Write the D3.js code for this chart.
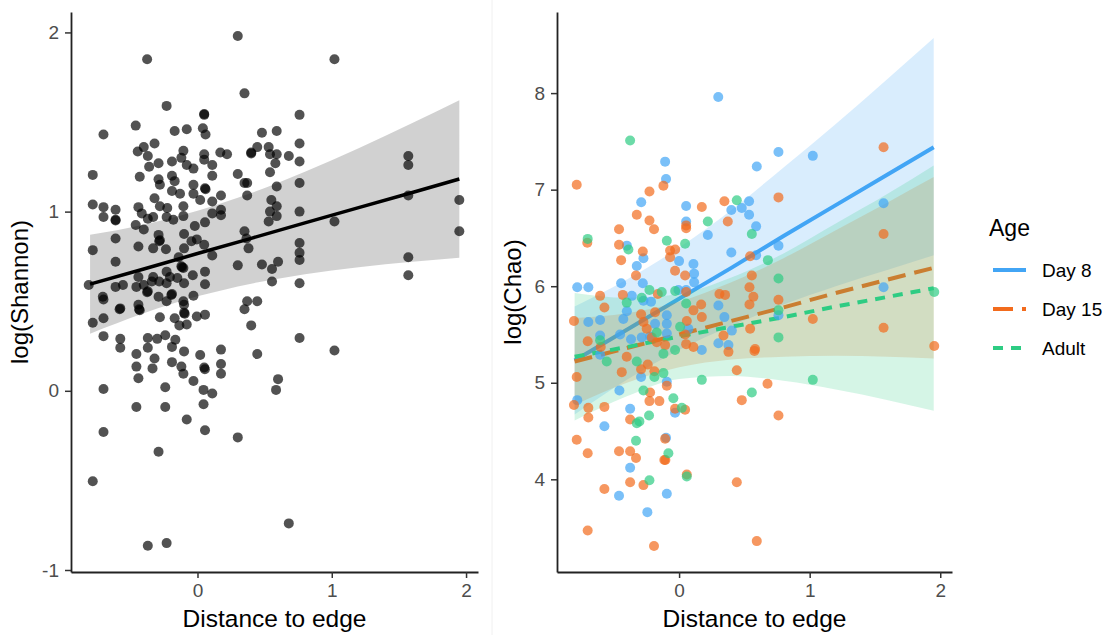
<!DOCTYPE html>
<html>
<head>
<meta charset="utf-8">
<script src="https://cdn.jsdelivr.net/npm/d3@7"></script>
<style>
  body { margin: 0; background: #fff; }
  text { font-family: "Liberation Sans", Arial, sans-serif; }
</style>
</head>
<body>
<script>
// ---- left panel: log(Shannon) vs distance to edge ----
var shannonPts = [
  [0.30,1.98],[-0.375,1.85],[1.02,1.85],[0.35,1.66],[-0.23,1.59],[0.05,1.54],[0.05,1.545],[0.76,1.54],
  [-0.46,1.48],[-0.70,1.43],[-0.17,1.45],[-0.08,1.46],[0.04,1.465],[0.06,1.43],[0.48,1.44],[0.59,1.45],
  [0.76,1.38],[-0.40,1.36],[-0.445,1.335],[-0.32,1.38],[-0.37,1.31],[-0.105,1.34],[-0.12,1.30],[0.05,1.32],
  [0.05,1.29],[0.17,1.33],[0.22,1.32],[0.40,1.33],[0.40,1.325],[0.445,1.36],[0.53,1.36],[0.54,1.32],
  [0.59,1.32],[0.68,1.31],[0.76,1.28],[0.58,1.27],[0.54,1.22],[-0.29,1.27],[-0.36,1.25],[-0.19,1.28],
  [-0.08,1.26],[-0.03,1.24],[0.11,1.26],[-0.78,1.205],[-0.43,1.195],[-0.29,1.18],[-0.28,1.15],[-0.19,1.20],
  [-0.17,1.17],[-0.03,1.15],[0.056,1.13],[0.06,1.125],[0.11,1.20],[0.30,1.21],[0.35,1.16],[0.37,1.16],
  [0.76,1.16],[0.59,1.14],[-0.19,1.115],[-0.13,1.10],[-0.03,1.10],[-0.32,1.075],[0.02,1.065],[0.11,1.056],
  [0.175,1.09],[0.37,1.09],[0.55,1.065],[1.57,1.31],[1.57,1.26],[1.57,1.09],[1.95,1.065],[-0.78,1.04],
  [-0.70,1.025],[-0.70,0.97],[-0.61,1.01],[-0.61,0.955],[-0.61,0.95],[-0.44,1.025],[-0.415,0.99],[-0.37,0.96],
  [-0.33,0.97],[-0.28,1.03],[-0.225,1.02],[-0.23,0.97],[-0.18,0.955],[-0.105,1.03],[-0.105,0.975],[0.11,0.99],
  [0.175,1.01],[0.175,0.98],[0.54,1.0],[0.59,1.03],[0.59,0.975],[0.53,0.945],[0.76,1.0],[1.02,0.945],
  [-0.46,0.925],[-0.40,0.90],[-0.02,0.92],[0.056,0.94],[1.95,0.89],[-0.61,0.85],[-0.78,0.785],[-0.44,0.805],
  [-0.33,0.795],[-0.29,0.87],[-0.28,0.84],[-0.285,0.835],[-0.235,0.79],[-0.10,0.875],[-0.005,0.845],[-0.045,0.835],
  [-0.10,0.795],[0.05,0.815],[0.11,0.755],[0.35,0.89],[0.365,0.85],[0.38,0.795],[0.76,0.825],[0.76,0.77],
  [0.76,0.73],[-0.61,0.72],[-0.14,0.745],[-0.12,0.695],[-0.115,0.69],[0.30,0.70],[0.48,0.705],[0.555,0.68],
  [0.60,0.72],[1.57,0.745],[1.57,0.645],[0.555,0.61],[0.76,0.60],[-0.81,0.59],[-0.61,0.58],[-0.555,0.59],
  [-0.455,0.58],[-0.40,0.59],[-0.37,0.555],[-0.375,0.55],[-0.33,0.635],[-0.34,0.61],[-0.285,0.61],[-0.23,0.60],
  [-0.205,0.635],[-0.15,0.63],[-0.10,0.60],[-0.035,0.645],[0.056,0.665],[0.056,0.595],[-0.23,0.665],[-0.105,0.685],
  [-0.44,0.635],[-0.705,0.525],[-0.70,0.51],[-0.29,0.525],[-0.23,0.50],[-0.19,0.54],[-0.195,0.535],[-0.105,0.50],
  [-0.10,0.48],[-0.03,0.53],[-0.575,0.46],[-0.58,0.455],[-0.44,0.48],[-0.435,0.455],[-0.43,0.45],[-0.78,0.38],
  [-0.70,0.405],[-0.28,0.41],[-0.17,0.405],[-0.10,0.435],[-0.095,0.43],[-0.135,0.365],[-0.08,0.37],[-0.005,0.415],
  [0.056,0.425],[0.35,0.455],[0.37,0.50],[0.445,0.50],[0.40,0.365],[-0.70,0.305],[-0.575,0.29],[-0.575,0.24],
  [-0.455,0.205],[-0.455,0.135],[-0.44,0.07],[-0.37,0.295],[-0.37,0.24],[-0.30,0.29],[-0.24,0.31],[-0.165,0.285],
  [-0.19,0.245],[-0.32,0.18],[-0.335,0.125],[-0.19,0.16],[-0.12,0.135],[-0.105,0.095],[-0.10,0.22],[0.02,0.20],
  [0.05,0.13],[0.055,0.12],[0.175,0.23],[0.175,0.15],[0.175,0.095],[-0.03,0.055],[0.045,0.005],[0.11,-0.015],
  [0.045,-0.075],[-0.70,0.01],[-0.24,0.02],[-0.455,-0.09],[-0.24,-0.09],[-0.08,-0.16],[0.056,-0.22],[-0.70,-0.23],
  [0.30,-0.26],[-0.29,-0.34],[-0.78,-0.505],[0.68,-0.74],[-0.37,-0.865],[-0.23,-0.85],[0.76,0.295],[1.02,0.225],
  [0.445,0.205],[0.60,0.065],[0.585,0.005]
];
// fitted line and confidence band
var fitX = [-0.8, -0.4, 0, 0.4, 0.8, 1.2, 1.6, 1.95];
var shannonFit = [0.595, 0.680, 0.766, 0.851, 0.937, 1.022, 1.107, 1.182];
var shannonLo = [0.319, 0.433, 0.527, 0.598, 0.651, 0.690, 0.720, 0.742];
var shannonHi = [0.871, 0.927, 1.005, 1.104, 1.223, 1.354, 1.494, 1.622];
var shannonTicks = [-1, 0, 1, 2];

// ---- right panel: log(Chao) by age ----
var ages = ["Day 8", "Day 15", "Adult"];
var day8Pts = [
  [0.30,7.96],[-0.107,7.29],[-0.10,7.11],[0.595,7.24],[-0.29,6.87],[0.054,6.83],[0.40,6.79],[0.48,6.81],
  [0.536,6.88],[0.536,6.74],[0.59,6.62],[0.054,6.67],[0.22,6.53],[-0.40,6.42],[0.40,6.35],[0.0,6.26],
  [0.11,6.23],[0.115,6.13],[0.115,6.04],[-0.273,6.29],[-0.324,6.21],[-0.78,5.99],[-0.695,5.99],[-0.444,6.03],
  [-0.278,6.03],[-0.362,5.90],[-0.273,5.85],[-0.215,5.84],[-0.005,5.96],[0.054,5.96],[-0.40,5.74],[-0.427,5.66],
  [-0.605,5.65],[-0.695,5.63],[-0.094,5.70],[-0.094,5.61],[-0.184,5.61],[-0.605,5.49],[-0.452,5.50],[-0.368,5.45],
  [-0.286,5.47],[-0.222,5.48],[-0.094,5.51],[0.071,5.56],[0.301,5.80],[0.347,5.68],[0.404,5.54],[0.301,5.41],
  [0.378,5.39],[0.174,5.34],[-0.605,5.29],[-0.291,5.06],[-0.457,4.92],[-0.094,5.01],[-0.78,4.82],[-0.375,4.73],
  [-0.572,4.55],[-0.031,4.69],[-0.10,4.43],[-0.375,4.12],[-0.46,3.83],[-0.094,3.85],[-0.243,3.66],[0.761,7.39],
  [1.024,7.35],[1.566,6.86],[0.761,6.42],[1.566,5.99],[0.761,5.70],[0.59,6.32]
];
var day15Pts = [
  [-0.784,7.05],[-0.227,6.98],[-0.12,7.04],[-0.324,6.74],[-0.227,6.68],[-0.192,6.59],[-0.46,6.59],[0.054,6.63],
  [0.054,6.60],[0.174,6.82],[0.347,6.88],[0.373,6.67],[-0.703,6.45],[-0.46,6.43],[-0.278,6.36],[-0.069,6.37],
  [-0.03,6.38],[-0.069,6.30],[-0.444,6.27],[-0.33,6.11],[-0.031,6.16],[0.046,6.11],[0.054,5.94],[-0.605,5.90],
  [-0.431,5.91],[-0.572,5.78],[-0.805,5.64],[-0.291,5.71],[-0.184,5.73],[-0.163,5.92],[0.059,5.64],[0.169,5.81],
  [0.174,5.68],[0.11,5.75],[0.309,5.92],[0.352,5.91],[0.539,5.99],[0.557,6.11],[0.569,5.89],[0.539,5.81],
  [0.544,5.56],[0.34,5.49],[0.577,5.33],[-0.70,5.43],[-0.60,5.37],[-0.401,5.27],[-0.273,5.63],[-0.248,5.56],
  [-0.209,5.47],[-0.171,5.42],[-0.107,5.39],[0.054,5.40],[0.11,5.37],[0.046,5.50],[0.378,5.32],[0.442,5.13],
  [-0.439,5.11],[-0.24,5.19],[-0.291,5.14],[-0.189,5.12],[-0.094,4.97],[-0.222,4.90],[-0.227,4.81],[-0.151,4.81],
  [-0.784,5.06],[-0.805,4.77],[-0.695,4.74],[-0.572,4.75],[0.48,4.82],[-0.695,4.64],[-0.375,4.62],[-0.031,4.73],
  [0.046,4.72],[-0.784,4.41],[-0.70,4.27],[-0.46,4.29],[-0.375,4.29],[-0.33,4.22],[-0.107,4.42],[-0.113,4.20],
  [-0.105,4.20],[0.059,4.05],[-0.375,3.97],[-0.273,3.94],[-0.572,3.90],[0.442,3.97],[-0.70,3.47],[-0.192,3.31],
  [0.595,3.36],[1.566,7.44],[0.761,6.92],[1.566,6.54],[0.544,6.31],[0.761,5.86],[1.024,5.66],[1.566,5.57],
  [1.954,5.38],[0.677,4.99],[0.761,4.66],[0.582,5.35]
];
var adultPts = [
  [-0.375,7.51],[0.442,6.89],[0.22,6.67],[0.557,6.54],[-0.70,6.49],[-0.094,6.47],[0.046,6.44],[-0.388,6.38],
  [-0.227,5.96],[-0.133,5.94],[-0.03,5.95],[-0.286,5.88],[-0.401,5.83],[0.054,5.82],[-0.605,5.44],[-0.554,5.22],
  [-0.324,5.22],[-0.171,5.52],[-0.12,5.30],[-0.031,5.34],[0.008,5.58],[-0.189,5.06],[-0.12,5.10],[0.174,5.03],
  [-0.273,4.92],[-0.044,4.84],[0.557,4.90],[-0.23,4.66],[-0.304,4.60],[-0.324,4.58],[0.021,4.74],[-0.33,4.40],
  [-0.082,4.27],[-0.227,3.99],[0.059,4.03],[1.954,5.94],[0.68,6.27],[0.761,6.08],[0.761,5.75],[0.761,5.47],
  [1.024,5.03]
];
var day8Fit = [5.23, 5.55, 5.87, 6.19, 6.52, 6.84, 7.16, 7.44];
var day8Lo = [4.67, 5.03, 5.34, 5.59, 5.81, 6.00, 6.17, 6.32];
var day8Hi = [5.79, 6.07, 6.40, 6.79, 7.23, 7.68, 8.15, 8.57];
var day15Fit = [5.22, 5.36, 5.50, 5.64, 5.78, 5.93, 6.07, 6.19];
var day15Lo = [4.77, 5.00, 5.16, 5.24, 5.27, 5.28, 5.27, 5.25];
var day15Hi = [5.67, 5.72, 5.84, 6.04, 6.29, 6.58, 6.87, 7.13];
var adultFit = [5.27, 5.37, 5.48, 5.58, 5.68, 5.79, 5.89, 5.98];
var adultLo = [4.61, 4.86, 5.04, 5.07, 5.02, 4.93, 4.82, 4.71];
var adultHi = [5.93, 5.88, 5.92, 6.09, 6.34, 6.65, 6.96, 7.25];
var chaoTicks = [4, 5, 6, 7, 8];
var distTicks = [0, 1, 2];

var colors = ["#42a5f5", "#f26b1d", "#2ecc83"];
var dashes = [null, "18,9", "10,8"];

var w = 1110, h = 635;
var svg = d3.select("body").append("svg")
    .attr("width", w)
    .attr("height", h);

// faint panel divider
svg.append("line")
    .attr("x1", 492).attr("x2", 492).attr("y1", 0).attr("y2", h)
    .attr("stroke", "#f0f0f0").attr("stroke-width", 1);

function styleAxis(g) {
    g.selectAll(".domain").attr("stroke", "#222").attr("stroke-width", 1.8);
    g.selectAll(".tick line").attr("stroke", "#333").attr("stroke-width", 1.5);
    g.selectAll(".tick text").attr("fill", "#4d4d4d")
        .style("font-size", "19px").style("font-family", "Liberation Sans, Arial, sans-serif");
}

function drawAxes(x, y, yTicks, yTitle, titleX) {
    var r = x.range(), ry = y.range();
    var gx = svg.append("g")
        .attr("transform", "translate(0," + ry[0] + ")")
        .call(d3.axisBottom(x).tickValues(distTicks).tickFormat(d3.format("d"))
            .tickSize(6).tickSizeOuter(0).tickPadding(6));
    styleAxis(gx);
    var gy = svg.append("g")
        .attr("transform", "translate(" + r[0] + ",0)")
        .call(d3.axisLeft(y).tickValues(yTicks).tickFormat(d3.format("d"))
            .tickSize(6).tickSizeOuter(0).tickPadding(6));
    styleAxis(gy);
    // ggplot-style minus: hyphen
    gy.selectAll(".tick text").text(function (d) { return d < 0 ? "-" + Math.abs(d) : d; });

    svg.append("text")
        .attr("x", (r[0] + r[1]) / 2)
        .attr("y", 627)
        .attr("text-anchor", "middle")
        .style("font-size", "24.5px")
        .attr("fill", "#000")
        .text("Distance to edge");
    svg.append("text")
        .attr("transform", "translate(" + titleX + "," + 292 + ") rotate(-90)")
        .attr("text-anchor", "middle")
        .style("font-size", "24px")
        .attr("fill", "#000")
        .text(yTitle);
}

function band(x, y, lo, hi) {
    return d3.area()
        .curve(d3.curveMonotoneX)
        .x(function (d, i) { return x(fitX[i]); })
        .y0(function (d, i) { return y(lo[i]); })
        .y1(function (d, i) { return y(hi[i]); })(fitX);
}
function fitLine(x, y, fit) {
    return d3.line()
        .x(function (d, i) { return x(fitX[i]); })
        .y(function (d, i) { return y(fit[i]); })(fitX);
}

// ---------- left panel ----------
var xL = d3.scaleLinear().domain([-0.942, 2.089]).range([71, 478]);
var yL = d3.scaleLinear().domain([-1.0112, 2.114]).range([572, 12]);

svg.append("path")
    .attr("d", band(xL, yL, shannonLo, shannonHi))
    .attr("fill", "#999999")
    .attr("fill-opacity", 0.45);

svg.append("path")
    .attr("d", fitLine(xL, yL, shannonFit))
    .attr("fill", "none")
    .attr("stroke", "#000")
    .attr("stroke-width", 3.5);

svg.append("g").selectAll("circle")
    .data(shannonPts)
    .enter()
    .append("circle")
    .attr("cx", function (d) { return xL(d[0]); })
    .attr("cy", function (d) { return yL(d[1]); })
    .attr("r", 5)
    .attr("fill", "#000")
    .attr("fill-opacity", 0.68);

drawAxes(xL, yL, shannonTicks, "log(Shannon)", 28);

// ---------- right panel ----------
var xR = d3.scaleLinear().domain([-0.935, 2.09]).range([557, 952]);
var yR = d3.scaleLinear().domain([3.04, 8.84]).range([572, 12]);

var groups = [
    { pts: day8Pts, fit: day8Fit, lo: day8Lo, hi: day8Hi },
    { pts: day15Pts, fit: day15Fit, lo: day15Lo, hi: day15Hi },
    { pts: adultPts, fit: adultFit, lo: adultLo, hi: adultHi }
];

// ribbon then line, per group
groups.forEach(function (g, gi) {
    svg.append("path")
        .attr("d", band(xR, yR, g.lo, g.hi))
        .attr("fill", colors[gi])
        .attr("fill-opacity", 0.2);
    svg.append("path")
        .attr("d", fitLine(xR, yR, g.fit))
        .attr("fill", "none")
        .attr("stroke", colors[gi])
        .attr("stroke-width", 4)
        .attr("stroke-dasharray", dashes[gi]);
});

// points on top
groups.forEach(function (g, gi) {
    svg.append("g").selectAll("circle")
        .data(g.pts)
        .enter()
        .append("circle")
        .attr("cx", function (d) { return xR(d[0]); })
        .attr("cy", function (d) { return yR(d[1]); })
        .attr("r", 5)
        .attr("fill", colors[gi])
        .attr("fill-opacity", 0.7);
});

drawAxes(xR, yR, chaoTicks, "log(Chao)", 521);

// ---------- legend ----------
var legend = svg.append("g");
legend.append("text")
    .attr("x", 989).attr("y", 236)
    .style("font-size", "23px")
    .attr("fill", "#000")
    .text("Age");
var keyY = [270, 309, 348];
ages.forEach(function (a, i) {
    legend.append("line")
        .attr("x1", 993).attr("x2", 1026)
        .attr("y1", keyY[i]).attr("y2", keyY[i])
        .attr("stroke", colors[i])
        .attr("stroke-width", 4)
        .attr("stroke-dasharray", i === 1 ? "20,9" : dashes[i]);
    legend.append("text")
        .attr("x", 1042).attr("y", keyY[i])
        .attr("dy", "0.35em")
        .style("font-size", "19px")
        .attr("fill", "#000")
        .text(a);
});
</script>
</body>
</html>
